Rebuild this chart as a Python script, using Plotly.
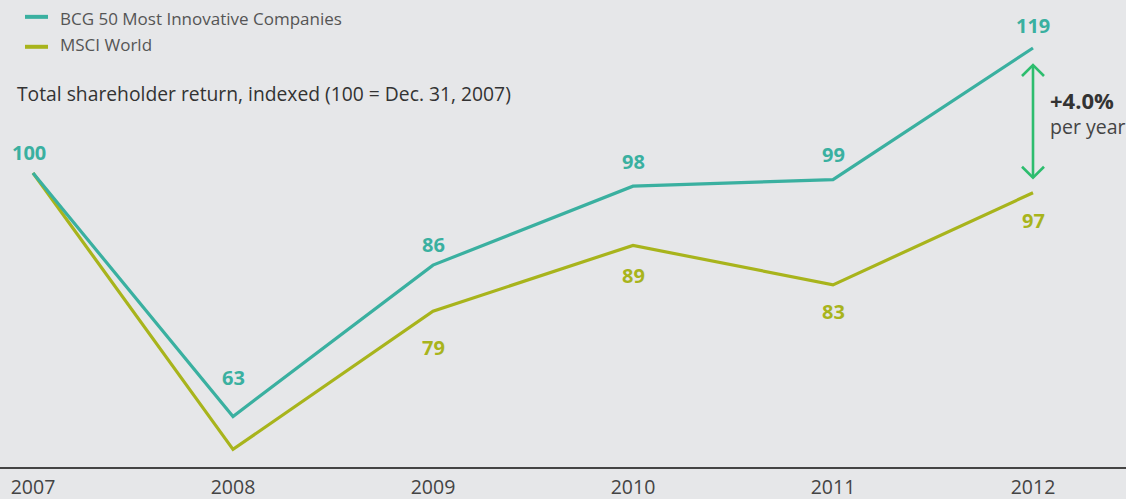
import plotly.graph_objects as go

years = [2007, 2008, 2009, 2010, 2011, 2012]
bcg = [100, 63, 86, 98, 99, 119]
msci = [100, 58, 79, 89, 83, 97]
bcg_labels = ["100", "63", "86", "98", "99", "119"]
msci_labels = [None, None, "79", "89", "83", "97"]
tick_labels = ["2007", "2008", "2009", "2010", "2011", "2012"]

TEAL = "#3AB0A0"
LIME = "#A8B41C"
ARROW = "#2DBD6E"
BG = "#E6E7E9"
FONT = "Open Sans"

fig = go.Figure()
fig.add_trace(go.Scatter(x=years, y=msci, mode="lines", name="MSCI World",
                         line=dict(color=LIME, width=3.2), showlegend=False, hoverinfo="skip"))
fig.add_trace(go.Scatter(x=years, y=bcg, mode="lines", name="BCG 50 Most Innovative Companies",
                         line=dict(color=TEAL, width=3.2), showlegend=False, hoverinfo="skip"))

ann = []
bcg_shift = [21, 39, 21, 25, 25, 22]
msci_shift = [0, 0, -36, -30, -27, -28]
bcg_xshift = [-4, 0, 0, 0, 0, 0]
for x, y, t, s, xs in zip(years, bcg, bcg_labels, bcg_shift, bcg_xshift):
    ann.append(dict(x=x, y=y, text=f"<b>{t}</b>", showarrow=False, yshift=s, xshift=xs,
                    font=dict(family=FONT, size=20, color=TEAL)))
for x, y, t, s in zip(years, msci, msci_labels, msci_shift):
    if t:
        ann.append(dict(x=x, y=y, text=f"<b>{t}</b>", showarrow=False, yshift=s,
                        font=dict(family=FONT, size=20, color=LIME)))

# legend (manual)
ann.append(dict(xref="paper", yref="paper", x=58/1126, y=1 - 20/499, xanchor="left", yanchor="middle",
                text="BCG 50 Most Innovative Companies", showarrow=False,
                font=dict(family=FONT, size=17, color="#555555")))
ann.append(dict(xref="paper", yref="paper", x=58/1126, y=1 - 48/499, xanchor="left", yanchor="middle",
                text="MSCI World", showarrow=False,
                font=dict(family=FONT, size=17, color="#555555")))
ann.append(dict(xref="paper", yref="paper", x=15/1126, y=1 - 100/499, xanchor="left", yanchor="middle",
                text="Total shareholder return, indexed (100 = Dec. 31, 2007)", showarrow=False,
                font=dict(family=FONT, size=19.3, color="#333333")))
ann.append(dict(xref="paper", yref="paper", x=1048/1126, y=1 - 107/499, xanchor="left", yanchor="middle",
                text="<b>+4.0%</b>", showarrow=False,
                font=dict(family=FONT, size=22, color="#333333")))
ann.append(dict(xref="paper", yref="paper", x=1048/1126, y=1 - 135/499, xanchor="left", yanchor="middle",
                text="per year", showarrow=False,
                font=dict(family=FONT, size=19.5, color="#444444")))

shapes = [
    dict(type="line", xref="paper", yref="paper", x0=25/1126, x1=48/1126,
         y0=1 - 18/499, y1=1 - 18/499, line=dict(color=TEAL, width=4)),
    dict(type="line", xref="paper", yref="paper", x0=25/1126, x1=48/1126,
         y0=1 - 50/499, y1=1 - 50/499, line=dict(color=LIME, width=4)),
]

# growth arrow between the two 2012 values
pxx = 200.0   # px per year
pxy = 6.58    # px per unit
ax = years[-1]
top = bcg[-1] - 17 / pxy
bot = msci[-1] + 15 / pxy
dx = 11 / pxx
dy = 11 / pxy
shapes.append(dict(type="line", xref="x", yref="y", x0=ax, x1=ax, y0=bot, y1=top,
                   line=dict(color=ARROW, width=2.6)))
shapes.append(dict(type="path", xref="x", yref="y",
                   path=f"M {ax-dx},{top-dy} L {ax},{top} L {ax+dx},{top-dy}",
                   line=dict(color=ARROW, width=2.6)))
shapes.append(dict(type="path", xref="x", yref="y",
                   path=f"M {ax-dx},{bot+dy} L {ax},{bot} L {ax+dx},{bot+dy}",
                   line=dict(color=ARROW, width=2.6)))

fig.update_layout(
    width=1126, height=499,
    margin=dict(l=0, r=0, t=0, b=32, autoexpand=False),
    paper_bgcolor=BG, plot_bgcolor=BG,
    annotations=ann, shapes=shapes,
    xaxis=dict(range=[2007 - 33 / 200, 2012 + 93 / 200], tickmode="array", tickvals=years,
               ticktext=tick_labels, showgrid=False, zeroline=False, automargin=False,
               showline=True, linecolor="#444444", linewidth=2, ticks="",
               ticklabelstandoff=2,
               tickfont=dict(family=FONT, size=19.5, color="#444444"), fixedrange=True),
    yaxis=dict(range=[100 - 294 / 6.58, 100 + 173 / 6.58], visible=False, fixedrange=True,
               automargin=False),
)

fig.write_html("out.html")
